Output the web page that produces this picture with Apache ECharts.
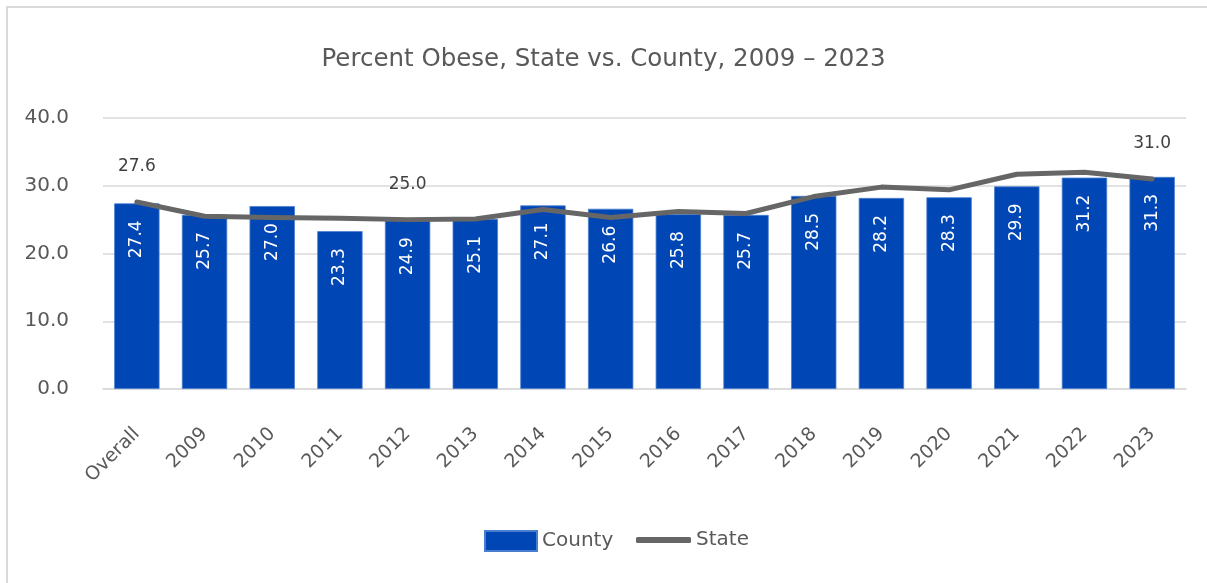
<!DOCTYPE html>
<html>
<head>
<meta charset="utf-8">
<script src="https://cdn.jsdelivr.net/npm/echarts@6/dist/echarts.min.js"></script>
<style>
  html, body { margin: 0; padding: 0; background: #fff; overflow: hidden; }
  #frame { position: absolute; left: 6px; top: 6px; width: 1400px; height: 800px; border: 2px solid #d9d9d9; box-sizing: border-box; }
  #chart { position: absolute; left: 0; top: 0; width: 1207px; height: 583px; }
</style>
</head>
<body>
<div id="frame"></div>
<div id="chart"></div>
<script>
const categories = ['Overall','2009','2010','2011','2012','2013','2014','2015','2016','2017','2018','2019','2020','2021','2022','2023'];
const countyValues = [27.4, 25.7, 27.0, 23.3, 24.9, 25.1, 27.1, 26.6, 25.8, 25.7, 28.5, 28.2, 28.3, 29.9, 31.2, 31.3];
const stateValues = [27.6, 25.5, 25.3, 25.2, 25.0, 25.1, 26.5, 25.3, 26.2, 25.9, 28.4, 29.8, 29.4, 31.7, 32.0, 31.0];
const stateLabelIndices = [0, 4, 15];
const yTicks = { min: 0, max: 40, interval: 10 };

const FONT = '"DejaVu Sans", sans-serif';
const chart = echarts.init(document.getElementById('chart'), null, { renderer: 'canvas' });

const stateData = stateValues.map((v, i) => ({
  value: v,
  label: { show: stateLabelIndices.indexOf(i) >= 0 }
}));

chart.setOption({
  animation: false,
  textStyle: { fontFamily: FONT },
  title: {
    text: 'Percent Obese, State vs. County, 2009 – 2023',
    left: 'center',
    top: 47,
    padding: 0,
    textStyle: { fontFamily: FONT, fontSize: 24.5, fontWeight: 'normal', color: '#595959' }
  },
  legend: [
    {
      data: ['County'],
      left: 484, top: 530, padding: 0,
      itemWidth: 52, itemHeight: 20, itemGap: 5,
      icon: 'rect',
      textStyle: { fontFamily: FONT, fontSize: 20, color: '#595959' }
    },
    {
      data: [{ name: 'State', icon: 'roundRect' }],
      left: 636, top: 530, padding: 0,
      itemWidth: 55, itemHeight: 6,
      textStyle: { fontFamily: FONT, fontSize: 20, color: '#595959' }
    }
  ],
  grid: { left: 103, right: 21, top: 118, bottom: 194, containLabel: false },
  xAxis: {
    type: 'category',
    data: categories,
    axisLine: { show: true, lineStyle: { color: '#d9d9d9', width: 1.5 } },
    axisTick: { show: false },
    axisLabel: {
      rotate: 45,
      interval: 0,
      margin: 42,
      fontFamily: FONT,
      fontSize: 19,
      color: '#595959'
    }
  },
  yAxis: {
    type: 'value',
    min: yTicks.min,
    max: yTicks.max,
    interval: yTicks.interval,
    axisLine: { show: false },
    axisTick: { show: false },
    splitLine: { lineStyle: { color: '#d9d9d9', width: 1.5 } },
    axisLabel: {
      margin: 34,
      fontFamily: FONT,
      fontSize: 20,
      color: '#595959',
      formatter: v => v.toFixed(1)
    }
  },
  series: [
    {
      name: 'County',
      type: 'bar',
      data: countyValues,
      barCategoryGap: '33%',
      itemStyle: { color: '#0046B4', borderColor: '#4a7fd0', borderWidth: 0.8 },
      label: {
        show: true,
        position: 'insideTop',
        rotate: 90,
        align: 'right',
        verticalAlign: 'middle',
        distance: 17,
        fontFamily: FONT,
        fontSize: 17,
        color: '#ffffff',
        formatter: p => p.value.toFixed(1)
      }
    },
    {
      name: 'State',
      type: 'line',
      data: stateData,
      symbol: 'circle',
      symbolSize: 1,
      showSymbol: true,
      itemStyle: { color: '#666666' },
      lineStyle: { color: '#666666', width: 5, cap: 'round', join: 'round' },
      label: {
        position: 'top',
        distance: 26,
        fontFamily: FONT,
        fontSize: 17,
        color: '#404040',
        formatter: p => p.value.toFixed(1)
      },
      z: 3
    }
  ]
});
</script>
</body>
</html>
